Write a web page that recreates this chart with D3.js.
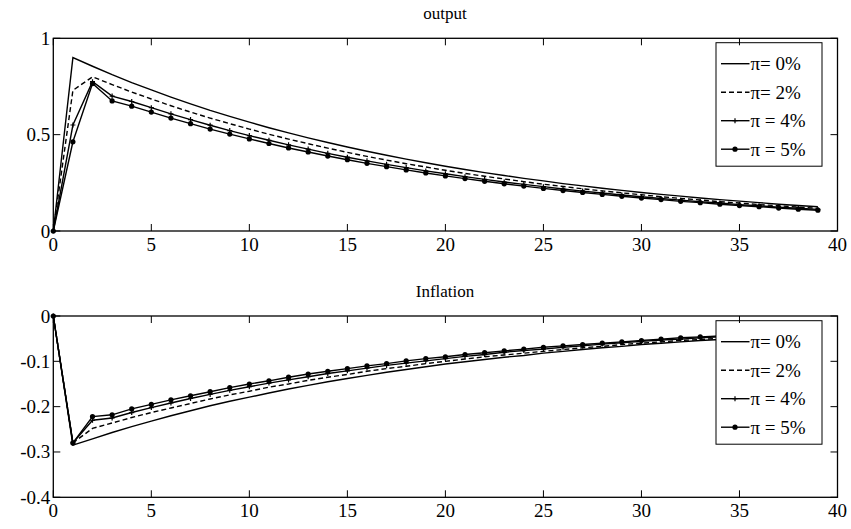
<!DOCTYPE html>
<html>
<head>
<meta charset="utf-8">
<script src="https://cdn.jsdelivr.net/npm/d3@7"></script>
<style>
  body { margin: 0; background: #fff; }
  svg text { font-family: "Liberation Serif", "Times New Roman", Times, serif; }
</style>
</head>
<body>
<div id="chart"></div>
<script>
// periods 0..39
const periods = d3.range(0, 40);

const seriesLabels = ['π= 0%', 'π= 2%', 'π = 4%', 'π = 5%'];

const output0 = [0, .900, .855, .811, .770, .732, .695, .660, .626, .595, .565, .536, .509, .483, .459, .436, .414, .393, .373, .354,
  .336, .319, .303, .288, .273, .260, .246, .234, .222, .211, .200, .190, .181, .171, .163, .155, .147, .139, .132, .126];
const output2 = [0, .730, .800, .760, .721, .685, .650, .617, .586, .557, .529, .502, .477, .453, .430, .408, .387, .368, .349, .332,
  .315, .299, .284, .270, .256, .243, .231, .219, .208, .198, .188, .178, .169, .161, .152, .145, .137, .131, .124, .118];
const output4 = [0, .550, .775, .700, .672, .640, .608, .578, .549, .521, .495, .471, .447, .425, .403, .383, .364, .346, .329, .312,
  .297, .282, .268, .254, .242, .230, .218, .207, .197, .187, .178, .169, .160, .152, .145, .137, .131, .124, .118, .112];
const output5 = [0, .463, .765, .675, .648, .617, .586, .557, .529, .503, .478, .454, .431, .410, .389, .370, .351, .334, .317, .301,
  .286, .272, .258, .245, .233, .221, .210, .200, .190, .180, .171, .163, .154, .147, .139, .132, .126, .119, .113, .108];

const infl0 = [0, -.285, -.271, -.257, -.244, -.232, -.220, -.209, -.198, -.188, -.179, -.170, -.161, -.153, -.145, -.138, -.131, -.124, -.118, -.112,
  -.106, -.101, -.096, -.091, -.087, -.082, -.078, -.074, -.070, -.067, -.063, -.060, -.057, -.054, -.052, -.049, -.046, -.044, -.042, -.040];
const infl2 = [0, -.280, -.248, -.236, -.224, -.213, -.203, -.193, -.183, -.174, -.166, -.157, -.150, -.142, -.135, -.129, -.122, -.116, -.111, -.105,
  -.100, -.095, -.090, -.086, -.082, -.078, -.074, -.070, -.067, -.063, -.060, -.057, -.054, -.052, -.049, -.047, -.044, -.042, -.040, -.038];
const infl4 = [0, -.280, -.230, -.225, -.213, -.202, -.192, -.182, -.173, -.164, -.156, -.148, -.141, -.134, -.127, -.121, -.115, -.109, -.104, -.099,
  -.094, -.089, -.085, -.080, -.076, -.073, -.069, -.066, -.062, -.059, -.056, -.053, -.051, -.048, -.046, -.044, -.041, -.039, -.037, -.036];
const infl5 = [0, -.280, -.222, -.218, -.205, -.195, -.185, -.176, -.167, -.158, -.150, -.143, -.135, -.128, -.122, -.116, -.110, -.105, -.099, -.094,
  -.090, -.085, -.081, -.077, -.073, -.069, -.066, -.063, -.060, -.057, -.054, -.051, -.048, -.046, -.044, -.042, -.040, -.038, -.036, -.034];

const xTicks = [0, 5, 10, 15, 20, 25, 30, 35, 40];
const outputTicks = [0, 0.5, 1];
const inflTicks = [0, -0.1, -0.2, -0.3, -0.4];

const width = 851, height = 529;
const svg = d3.select('#chart').append('svg')
  .attr('width', width)
  .attr('height', height);

const x = d3.scaleLinear().domain([0, 40]).range([53.3, 837.5]);

const styles = [
  { dash: null, marker: null },
  { dash: '5,3', marker: null },
  { dash: null, marker: 'plus' },
  { dash: null, marker: 'dot' },
];

function drawPanel(opts) {
  const { title, titleY, y, yTicks, yFmt, series, legendTop } = opts;
  const g = svg.append('g');
  const [y0, y1] = y.range();

  // Lines
  const line = d3.line().x((d, i) => x(periods[i])).y(d => y(d));
  series.forEach((s, k) => {
    g.append('path')
      .attr('d', line(s))
      .attr('fill', 'none')
      .attr('stroke', '#000')
      .attr('stroke-width', 1.4)
      .attr('stroke-dasharray', styles[k].dash);
    if (styles[k].marker === 'dot') {
      g.selectAll(null).data(s).enter().append('circle')
        .attr('cx', (d, i) => x(periods[i]))
        .attr('cy', d => y(d))
        .attr('r', 2.6)
        .attr('fill', '#000');
    } else if (styles[k].marker === 'plus') {
      g.selectAll(null).data(s).enter().append('path')
        .attr('d', (d, i) => {
          const cx = x(periods[i]), cy = y(d);
          return `M${cx - 2.5},${cy}H${cx + 2.5}M${cx},${cy - 2.5}V${cy + 2.5}`;
        })
        .attr('stroke', '#000')
        .attr('stroke-width', 1.2);
    }
  });

  // Legend
  const lx = 716, lw = 106, lh = 123.5, rowH = 28.5;
  const leg = g.append('g').attr('transform', `translate(${lx},${legendTop})`);
  leg.append('rect')
    .attr('width', lw).attr('height', lh)
    .attr('fill', '#fff').attr('stroke', '#000').attr('stroke-width', 1);
  seriesLabels.forEach((lab, k) => {
    const cy = 21 + k * rowH;
    leg.append('line')
      .attr('x1', 5).attr('x2', 33.5).attr('y1', cy).attr('y2', cy)
      .attr('stroke', '#000').attr('stroke-width', 1.4)
      .attr('stroke-dasharray', styles[k].dash);
    if (styles[k].marker === 'dot') {
      leg.append('circle').attr('cx', 19).attr('cy', cy).attr('r', 2.6).attr('fill', '#000');
    } else if (styles[k].marker === 'plus') {
      leg.append('path').attr('d', `M16.5,${cy}H21.5M19,${cy - 2.5}V${cy + 2.5}`)
        .attr('stroke', '#000').attr('stroke-width', 1.2);
    }
    leg.append('text')
      .attr('x', 34.5).attr('y', cy + 6.5)
      .attr('font-size', '19px')
      .attr('fill', '#000')
      .text(lab);
  });

  // Frame
  const [xl, xr] = x.range();
  g.append('rect')
    .attr('x', xl).attr('y', y1)
    .attr('width', xr - xl).attr('height', y0 - y1)
    .attr('fill', 'none').attr('stroke', '#000').attr('stroke-width', 1.3);

  // Ticks, inward on all four sides
  const tl = 7;
  xTicks.forEach(t => {
    g.append('line').attr('x1', x(t)).attr('x2', x(t)).attr('y1', y0).attr('y2', y0 - tl)
      .attr('stroke', '#000').attr('stroke-width', 1);
    g.append('line').attr('x1', x(t)).attr('x2', x(t)).attr('y1', y1).attr('y2', y1 + tl)
      .attr('stroke', '#000').attr('stroke-width', 1);
    g.append('text')
      .attr('x', x(t)).attr('y', y0 + 20)
      .attr('text-anchor', 'middle')
      .attr('font-size', '19px')
      .attr('fill', '#000')
      .text(t);
  });
  yTicks.forEach(t => {
    g.append('line').attr('x1', xl).attr('x2', xl + tl).attr('y1', y(t)).attr('y2', y(t))
      .attr('stroke', '#000').attr('stroke-width', 1);
    g.append('line').attr('x1', xr).attr('x2', xr - tl).attr('y1', y(t)).attr('y2', y(t))
      .attr('stroke', '#000').attr('stroke-width', 1);
    g.append('text')
      .attr('x', xl - 3).attr('y', y(t) + 6.5)
      .attr('text-anchor', 'end')
      .attr('font-size', '19px')
      .attr('fill', '#000')
      .text(yFmt(t));
  });

  // Title
  g.append('text')
    .attr('x', 445).attr('y', titleY)
    .attr('text-anchor', 'middle')
    .attr('font-size', '17px')
    .attr('fill', '#000')
    .text(title);
}

const fmt = d => (d === 0 ? '0' : String(d));

drawPanel({
  title: 'output',
  titleY: 19,
  y: d3.scaleLinear().domain([0, 1]).range([231, 38.3]),
  yTicks: outputTicks,
  yFmt: fmt,
  series: [output0, output2, output4, output5],
  legendTop: 42.7,
});

drawPanel({
  title: 'Inflation',
  titleY: 297,
  y: d3.scaleLinear().domain([-0.4, 0]).range([497.3, 316]),
  yTicks: inflTicks,
  yFmt: fmt,
  series: [infl0, infl2, infl4, infl5],
  legendTop: 320.7,
});
</script>
</body>
</html>
